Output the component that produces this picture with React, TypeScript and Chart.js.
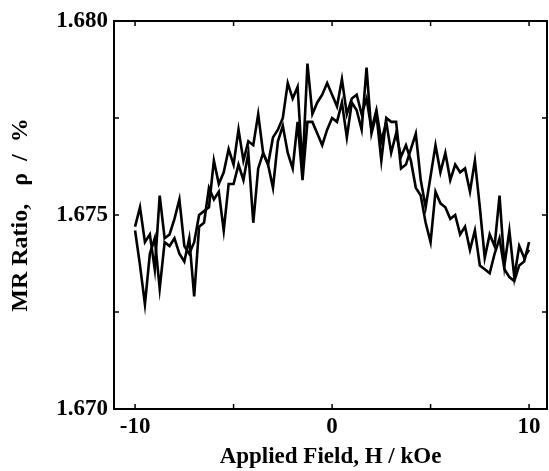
import React, { useEffect, useRef } from 'react';
import { Chart, registerables } from 'chart.js';

Chart.register(...registerables);

const FIELD_KOE = [
  -10, -9.75, -9.5, -9.25, -9, -8.75, -8.5, -8.25, -8, -7.75, -7.5, -7.25, -7, -6.75, -6.5, -6.25,
  -6, -5.75, -5.5, -5.25, -5, -4.75, -4.5, -4.25, -4, -3.75, -3.5, -3.25, -3, -2.75, -2.5, -2.25,
  -2, -1.75, -1.5, -1.25, -1, -0.75, -0.5, -0.25, 0, 0.25, 0.5, 0.75, 1, 1.25, 1.5, 1.75,
  2, 2.25, 2.5, 2.75, 3, 3.25, 3.5, 3.75, 4, 4.25, 4.5, 4.75, 5, 5.25, 5.5, 5.75,
  6, 6.25, 6.5, 6.75, 7, 7.25, 7.5, 7.75, 8, 8.25, 8.5, 8.75, 9, 9.25, 9.5, 9.75, 10,
];

const MR_SWEEP_A = [
  1.6747, 1.6752, 1.6743, 1.6745, 1.6736, 1.6755, 1.6744, 1.6745, 1.6749, 1.6754, 1.6742, 1.6740, 1.6743, 1.6750, 1.6751, 1.6752,
  1.6764, 1.6758, 1.6761, 1.6767, 1.6763, 1.6772, 1.6764, 1.6769, 1.6768, 1.6776, 1.6766, 1.6763, 1.6770, 1.6772, 1.6775, 1.6784,
  1.6780, 1.6783, 1.6762, 1.6789, 1.6776, 1.6779, 1.6781, 1.6784, 1.6781, 1.6778, 1.6785, 1.6776, 1.6780, 1.6781, 1.6776, 1.6780,
  1.6772, 1.6777, 1.6769, 1.6774, 1.6766, 1.6771, 1.6765, 1.6768, 1.6764, 1.6757, 1.6755, 1.6748, 1.6743, 1.6756, 1.6753, 1.6752,
  1.6749, 1.6750, 1.6745, 1.6747, 1.6741, 1.6746, 1.6737, 1.6736, 1.6735, 1.6740, 1.6744, 1.6736, 1.6734, 1.6733, 1.6737, 1.6738, 1.6743,
];

const MR_SWEEP_B = [
  1.6746, 1.6737, 1.6727, 1.6740, 1.6744, 1.6731, 1.6743, 1.6742, 1.6744, 1.6740, 1.6738, 1.6744, 1.6729, 1.6747, 1.6748, 1.6757,
  1.6754, 1.6756, 1.6746, 1.6758, 1.6758, 1.6763, 1.6759, 1.6766, 1.6748, 1.6762, 1.6766, 1.6763, 1.6757, 1.6769, 1.6773, 1.6766,
  1.6762, 1.6774, 1.6759, 1.6774, 1.6774, 1.6771, 1.6768, 1.6772, 1.6775, 1.6774, 1.6779, 1.6770, 1.6779, 1.6777, 1.6772, 1.6788,
  1.6771, 1.6776, 1.6764, 1.6775, 1.6774, 1.6774, 1.6762, 1.6763, 1.6767, 1.6771, 1.6759, 1.6752, 1.6760, 1.6768, 1.6761, 1.6766,
  1.6759, 1.6763, 1.6761, 1.6762, 1.6756, 1.6764, 1.6752, 1.6739, 1.6745, 1.6742, 1.6755, 1.6737, 1.6746, 1.6734, 1.6742, 1.6739, 1.6741,
];

const Y_TICKS = [1.67, 1.6725, 1.675, 1.6775, 1.68];
const Y_LABELED = [1.67, 1.675, 1.68];
const X_TICKS = [-10, -5, 0, 5, 10];
const X_LABELED = [-10, 0, 10];

const X_TITLE = 'Applied Field, H / kOe';
const Y_TITLE = 'MR Ratio,   \u03c1  /  %';

const FONT_FAMILY = '"Liberation Serif", "DejaVu Serif", serif';

const framePlugin = {
  id: 'frameTicks',
  afterDraw(chart: any) {
    const { ctx, chartArea } = chart;
    const xs = chart.scales.x;
    const ys = chart.scales.y;
    const { left, right, top, bottom } = chartArea;
    ctx.save();
    ctx.strokeStyle = '#000';
    ctx.lineWidth = 2;
    ctx.strokeRect(left, top, right - left, bottom - top);
    ctx.lineWidth = 1.5;
    const len = 5;
    X_TICKS.forEach((v) => {
      const px = xs.getPixelForValue(v);
      ctx.beginPath();
      ctx.moveTo(px, bottom);
      ctx.lineTo(px, bottom - len);
      ctx.moveTo(px, top);
      ctx.lineTo(px, top + len);
      ctx.stroke();
    });
    Y_TICKS.forEach((v) => {
      const py = ys.getPixelForValue(v);
      ctx.beginPath();
      ctx.moveTo(left, py);
      ctx.lineTo(left + len, py);
      ctx.moveTo(right, py);
      ctx.lineTo(right - len, py);
      ctx.stroke();
    });
    ctx.restore();
  },
};

export default function App() {
  const canvasRef = useRef<HTMLCanvasElement | null>(null);

  useEffect(() => {
    document.body.style.margin = '0';
    const canvas = canvasRef.current;
    if (!canvas) return;
    const toPoints = (ys: number[]) => FIELD_KOE.map((x, i) => ({ x, y: ys[i] }));
    const chart = new Chart(canvas, {
      type: 'line',
      data: {
        datasets: [
          {
            data: toPoints(MR_SWEEP_A),
            borderColor: '#000',
            borderWidth: 2.6,
            pointRadius: 0,
            tension: 0,
            fill: false,
          },
          {
            data: toPoints(MR_SWEEP_B),
            borderColor: '#000',
            borderWidth: 2.6,
            pointRadius: 0,
            tension: 0,
            fill: false,
          },
        ],
      },
      options: {
        animation: false,
        responsive: false,
        maintainAspectRatio: false,
        layout: { padding: { top: 21, right: 2, left: 0, bottom: 0 } },
        plugins: { legend: { display: false }, tooltip: { enabled: false } },
        scales: {
          x: {
            type: 'linear',
            min: -11.07,
            max: 10.91,
            grid: { display: false, drawTicks: false },
            border: { display: false },
            afterBuildTicks: (scale: any) => {
              scale.ticks = X_TICKS.map((value) => ({ value }));
            },
            afterFit: (scale: any) => {
              scale.height = 62;
            },
            ticks: {
              autoSkip: false,
              maxRotation: 0,
              padding: 4,
              color: '#000',
              font: { family: FONT_FAMILY, size: 23, weight: 'bold' },
              callback: (v: any) => (X_LABELED.includes(Number(v)) ? String(v) : ''),
            },
            title: {
              display: true,
              text: X_TITLE,
              color: '#000',
              font: { family: FONT_FAMILY, size: 23, weight: 'bold' },
              padding: { top: 0, bottom: 0 },
            },
          },
          y: {
            type: 'linear',
            min: 1.67,
            max: 1.68,
            grid: { display: false, drawTicks: false },
            border: { display: false },
            afterBuildTicks: (scale: any) => {
              scale.ticks = Y_TICKS.map((value) => ({ value }));
            },
            afterFit: (scale: any) => {
              scale.width = 114;
            },
            ticks: {
              autoSkip: false,
              padding: 6,
              color: '#000',
              font: { family: FONT_FAMILY, size: 23, weight: 'bold' },
              callback: (v: any) =>
                Y_LABELED.some((t) => Math.abs(t - Number(v)) < 1e-6) ? Number(v).toFixed(3) : '',
            },
            title: {
              display: true,
              text: Y_TITLE,
              color: '#000',
              font: { family: FONT_FAMILY, size: 24, weight: 'bold' },
              padding: { top: 6, bottom: 0 },
            },
          },
        },
      },
      plugins: [framePlugin],
    });
    return () => chart.destroy();
  }, []);

  return (
    <div style={{ position: 'absolute', left: 0, top: 0, width: 549, height: 471, background: '#fff' }}>
      <canvas ref={canvasRef} width={549} height={471} style={{ width: 549, height: 471 }} />
    </div>
  );
}
